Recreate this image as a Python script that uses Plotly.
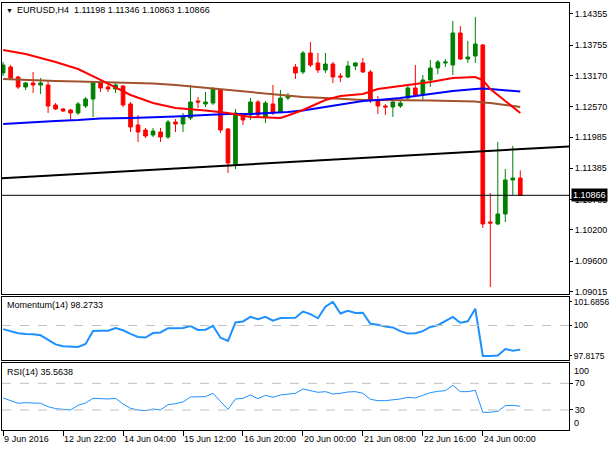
import plotly.graph_objects as go
from plotly.subplots import make_subplots

## EURUSD H4 candles (bar 0 = 9 Jun 2016)
bars = list(range(70))
opens = [1.13219, 1.13335, 1.13142, 1.12950, 1.13027, 1.12988, 1.12988, 1.12604, 1.12527, 1.12507,
         1.12450, 1.12584, 1.12719, 1.13027, 1.12950, 1.12911, 1.12969, 1.12623, 1.12219, 1.12122,
         1.12026, 1.12084, 1.11988, 1.12276, 1.12238, 1.12353, 1.12681, 1.12623, 1.12642, 1.12892,
         1.12142, 1.11468, 1.12411, 1.12411, 1.12661, 1.12373, 1.12623, 1.12469, 1.12738, 1.13335,
         1.13239, 1.13604, 1.13412, 1.13277, 1.13392, 1.13162, 1.13142, 1.13354, 1.13412, 1.13239,
         1.12700, 1.12584, 1.12565, 1.12584, 1.12738, 1.12931, 1.12796, 1.13085, 1.13316, 1.13412,
         1.13373, 1.13989, 1.13489, 1.13546, 1.13758, 1.10352, 1.10314, 1.10506, 1.11161, 1.11198]
highs = [1.13431, 1.13373, 1.13162, 1.13046, 1.13239, 1.13123, 1.13065, 1.12642, 1.12546, 1.12527,
         1.12661, 1.12757, 1.13046, 1.13046, 1.13008, 1.13027, 1.12988, 1.12661, 1.12411, 1.12161,
         1.12161, 1.12161, 1.12315, 1.12334, 1.12450, 1.12988, 1.12757, 1.12854, 1.12950, 1.12911,
         1.12161, 1.12527, 1.12450, 1.12738, 1.12700, 1.12681, 1.12988, 1.12892, 1.12834, 1.13392,
         1.13643, 1.13816, 1.13604, 1.13604, 1.13431, 1.13219, 1.13450, 1.13431, 1.13508, 1.13277,
         1.12777, 1.12623, 1.12738, 1.12700, 1.12988, 1.13373, 1.13181, 1.13469, 1.13469, 1.13489,
         1.14220, 1.14124, 1.13835, 1.14297, 1.13777, 1.10910, 1.11892, 1.11372, 1.11815, 1.11346]
lows = [1.13162, 1.13085, 1.12911, 1.12892, 1.12834, 1.12815, 1.12450, 1.12507, 1.12469, 1.12315,
        1.12411, 1.12546, 1.12373, 1.12854, 1.12854, 1.12834, 1.12565, 1.12084, 1.11892, 1.11969,
        1.11988, 1.11892, 1.11949, 1.12084, 1.12084, 1.12315, 1.12546, 1.12565, 1.12604, 1.12065,
        1.11295, 1.11372, 1.12219, 1.12315, 1.12353, 1.12257, 1.12411, 1.12450, 1.12700, 1.13104,
        1.13200, 1.13335, 1.13219, 1.13219, 1.13027, 1.13046, 1.13123, 1.13277, 1.13219, 1.12642,
        1.12430, 1.12411, 1.12373, 1.12546, 1.12681, 1.12757, 1.12700, 1.12950, 1.13200, 1.13335,
        1.13181, 1.13469, 1.13412, 1.13412, 1.10237, 1.09101, 1.10295, 1.10352, 1.10872, 1.10863]
closes = [1.13373, 1.13123, 1.12950, 1.13027, 1.12988, 1.13027, 1.12584, 1.12527, 1.12488, 1.12450,
          1.12623, 1.12719, 1.13027, 1.12931, 1.12911, 1.12988, 1.12604, 1.12180, 1.12084, 1.12007,
          1.12103, 1.11988, 1.12276, 1.12238, 1.12373, 1.12661, 1.12661, 1.12661, 1.12911, 1.12122,
          1.11487, 1.12450, 1.12315, 1.12661, 1.12411, 1.12642, 1.12469, 1.12738, 1.12777, 1.13219,
          1.13604, 1.13373, 1.13277, 1.13392, 1.13142, 1.13142, 1.13354, 1.13412, 1.13239, 1.12719,
          1.12584, 1.12565, 1.12661, 1.12642, 1.12931, 1.12796, 1.13085, 1.13316, 1.13431, 1.13431,
          1.13989, 1.13489, 1.13527, 1.13777, 1.10314, 1.10333, 1.10506, 1.11161, 1.11198, 1.10866]

## moving averages, sampled at these bars
ma_bars = [0, 3, 7, 10, 13, 17, 20, 23, 27, 30, 33, 37, 38, 40, 43, 45, 48, 50, 53, 57, 60, 63, 64, 65, 67, 69]
ma_red = [1.13662, 1.13585, 1.13431, 1.13296, 1.13085, 1.12796, 1.12642, 1.12546, 1.12498, 1.12450,
          1.12373, 1.12353, 1.12401, 1.12507, 1.12700, 1.12777, 1.12815, 1.12911, 1.12969, 1.13046,
          1.13123, 1.13142, 1.13085, 1.12911, 1.12681, 1.12450]
ma_blue = [1.12238, 1.12267, 1.12296, 1.12315, 1.12344, 1.12353, 1.12363, 1.12382, 1.12411, 1.12430,
           1.12430, 1.12450, 1.12469, 1.12498, 1.12565, 1.12623, 1.12681, 1.12700, 1.12738, 1.12815,
           1.12873, 1.12911, 1.12921, 1.12911, 1.12892, 1.12863]
ma_brown = [1.13104, 1.13085, 1.13065, 1.13056, 1.13046, 1.13036, 1.13017, 1.12988, 1.12931, 1.12892,
            1.12844, 1.12796, 1.12786, 1.12757, 1.12738, 1.12719, 1.12700, 1.12700, 1.12700, 1.12690,
            1.12681, 1.12671, 1.12652, 1.12642, 1.12604, 1.12565]

## trend line and last price
trend_bars = [-1, 77]
trend_prices = [1.11187, 1.11819]
last_price = 1.10866

## indicators
momentum = [99.74, 99.60, 99.45, 99.40, 99.38, 99.30, 99.00, 98.65, 98.52, 98.48,
            98.47, 98.68, 99.60, 99.62, 99.63, 99.82, 99.66, 99.40, 99.18, 99.14,
            99.46, 99.50, 99.81, 99.80, 99.82, 99.96, 99.68, 99.70, 99.98, 99.12,
            98.90, 100.22, 100.29, 100.62, 100.45, 100.62, 100.35, 100.54, 100.54, 100.56,
            101.00, 100.82, 100.52, 101.35, 101.6856, 100.86, 101.06, 100.90, 100.92, 100.12,
            100.06, 99.92, 99.86, 99.60, 99.42, 99.45, 99.60, 99.90, 100.02, 100.33,
            100.62, 100.20, 100.30, 101.20, 97.8175, 97.82, 97.85, 98.32, 98.20, 98.2733]
rsi = [48, 43.5, 40, 41, 40.5, 40, 35, 32, 31, 30,
       37, 40.5, 47.5, 46.5, 46.5, 47.5, 39, 32.5, 30, 29,
       31.5, 30, 38, 39.5, 42, 49.5, 49.5, 50, 55, 42.5,
       31, 46.5, 47.5, 52.5, 47, 52, 49, 52.5, 53.5, 55,
       61.5, 58.5, 56.5, 57.5, 54, 55, 57, 57.5, 55, 46,
       44, 44, 45, 46.5, 49, 48, 52, 56, 58, 59,
       67, 57.5, 57.5, 59.5, 26.5, 26.5, 28, 36.5, 37, 35.5638]

price_ticks = [1.14355, 1.13755, 1.13170, 1.12570, 1.11985, 1.11385, 1.10785, 1.10200, 1.09600, 1.09015]
mom_ticks = [97.8175, 100, 101.6856]
mom_labels = ["97.8175", "100", "101.6856"]
rsi_levels = [30, 70]

date_ticks = [0, 8, 16, 24, 32, 40, 48, 56, 64]
date_labels = ["9 Jun 2016", "12 Jun 22:00", "14 Jun 04:00", "15 Jun 12:00", "16 Jun 20:00",
               "20 Jun 00:00", "21 Jun 08:00", "22 Jun 16:00", "24 Jun 00:00"]

FONT = "Tahoma, 'Liberation Sans', Arial, sans-serif"

fig = make_subplots(rows=3, cols=1, shared_xaxes=True, vertical_spacing=0.0)

fig.add_trace(go.Candlestick(
    x=bars, open=opens, high=highs, low=lows, close=closes,
    increasing=dict(line=dict(color='#008000', width=1), fillcolor='#008000'),
    decreasing=dict(line=dict(color='#ff0000', width=1), fillcolor='#ff0000'),
    hoverinfo='skip'), row=1, col=1)

fig.add_trace(go.Scatter(x=ma_bars, y=ma_brown, mode='lines',
                         line=dict(color='#a0522d', width=2)), row=1, col=1)
fig.add_trace(go.Scatter(x=ma_bars, y=ma_blue, mode='lines',
                         line=dict(color='#0000ff', width=2)), row=1, col=1)
fig.add_trace(go.Scatter(x=ma_bars, y=ma_red, mode='lines',
                         line=dict(color='#ff0000', width=2)), row=1, col=1)
fig.add_trace(go.Scatter(x=trend_bars, y=trend_prices, mode='lines',
                         line=dict(color='#000000', width=2)), row=1, col=1)

fig.add_trace(go.Scatter(x=bars, y=momentum, mode='lines',
                         line=dict(color='#1e90ff', width=2)), row=2, col=1)
fig.add_trace(go.Scatter(x=bars, y=rsi, mode='lines',
                         line=dict(color='#1e90ff', width=1)), row=3, col=1)

# last price line
fig.add_shape(type='line', xref='x domain', yref='y', x0=0, x1=1, y0=last_price, y1=last_price,
              line=dict(color='#000000', width=1))
# level lines
fig.add_shape(type='line', xref='x2 domain', yref='y2', x0=0, x1=1, y0=100, y1=100,
              line=dict(color='#c0c0c0', width=1, dash='dash'))
for lv in rsi_levels:
    fig.add_shape(type='line', xref='x3 domain', yref='y3', x0=0, x1=1, y0=lv, y1=lv,
                  line=dict(color='#c0c0c0', width=1, dash='dash'))

axis_style = dict(showline=True, mirror=True, linecolor='#000000', linewidth=1,
                  showgrid=False, zeroline=False, automargin=False)

fig.update_xaxes(range=[-0.15, 75.5], rangeslider_visible=False, ticks='',
                 showticklabels=False, **axis_style)
fig.update_xaxes(row=3, col=1, tickmode='array', tickvals=date_ticks, ticktext=date_labels,
                 ticks='outside', ticklen=5, tickcolor='#000000', showticklabels=True,
                 tickangle=0, ticklabelposition='outside right',
                 tickfont=dict(size=9, color='#000000'))

fig.update_layout(
    yaxis=dict(domain=[0.3185, 1.0], side='right', range=[1.08967, 1.14566],
               tickmode='array', tickvals=price_ticks, ticktext=[f"{v:.5f}" for v in price_ticks],
               ticks='outside', ticklen=3, tickcolor='#000000', **axis_style),
    yaxis2=dict(domain=[0.1639, 0.3108], side='right', range=[97.53, 102.02],
                tickmode='array', tickvals=mom_ticks, ticktext=mom_labels,
                ticks='outside', ticklen=2, tickcolor='#000000',
                tickfont=dict(size=8.5), **axis_style),
    yaxis3=dict(domain=[0.0, 0.1562], side='right', range=[0, 100],
                tickmode='array', tickvals=rsi_levels, ticktext=[str(v) for v in rsi_levels],
                ticks='outside', ticklen=3, tickcolor='#000000', **axis_style),
)

annotations = [
    dict(text="\u25bc", xref='paper', yref='paper', x=0.004, y=0.9836, xanchor='left',
         yanchor='middle', showarrow=False, font=dict(size=7, color='#000000')),
    dict(text=f"EURUSD,H4  {opens[-1]:.5f} {highs[-1]:.5f} {lows[-1]:.5f} {closes[-1]:.5f}",
         xref='paper', yref='paper', x=0.0235, y=0.9836, xanchor='left', yanchor='middle',
         showarrow=False, font=dict(size=9, color='#000000')),
    dict(text=f"Momentum(14) {momentum[-1]:.4f}", xref='paper', yref='paper', x=0.006, y=0.2927,
         xanchor='left', yanchor='middle', showarrow=False, font=dict(size=9, color='#000000')),
    dict(text=f"RSI(14) {rsi[-1]:.4f}", xref='paper', yref='paper', x=0.006, y=0.1358,
         xanchor='left', yanchor='middle', showarrow=False, font=dict(size=9, color='#000000')),
    dict(text="100", xref='paper', yref='paper', x=1.0, y=0.1562, xanchor='left', yanchor='top',
         xshift=3, yshift=-1, showarrow=False, font=dict(size=9, color='#000000')),
    dict(text="0", xref='paper', yref='paper', x=1.0, y=0.0, xanchor='left', yanchor='bottom',
         xshift=3, showarrow=False, font=dict(size=9, color='#000000')),
    dict(text=f"{last_price:.5f}", xref='paper', yref='y', x=1.0, y=last_price, xanchor='left',
         yanchor='middle', xshift=2, showarrow=False, bgcolor='#000000',
         font=dict(size=9, color='#ffffff')),
]

fig.update_layout(
    width=610, height=450,
    margin=dict(l=2, r=41, t=3, b=20),
    paper_bgcolor='#ffffff', plot_bgcolor='#ffffff',
    showlegend=False,
    font=dict(family=FONT, size=9, color='#000000'),
    annotations=annotations,
)

# the page's default body margin shifts the figure; drop it
fig.write_html("out.html", config={'displayModeBar': False},
               post_script="document.body.style.margin='0px';")
